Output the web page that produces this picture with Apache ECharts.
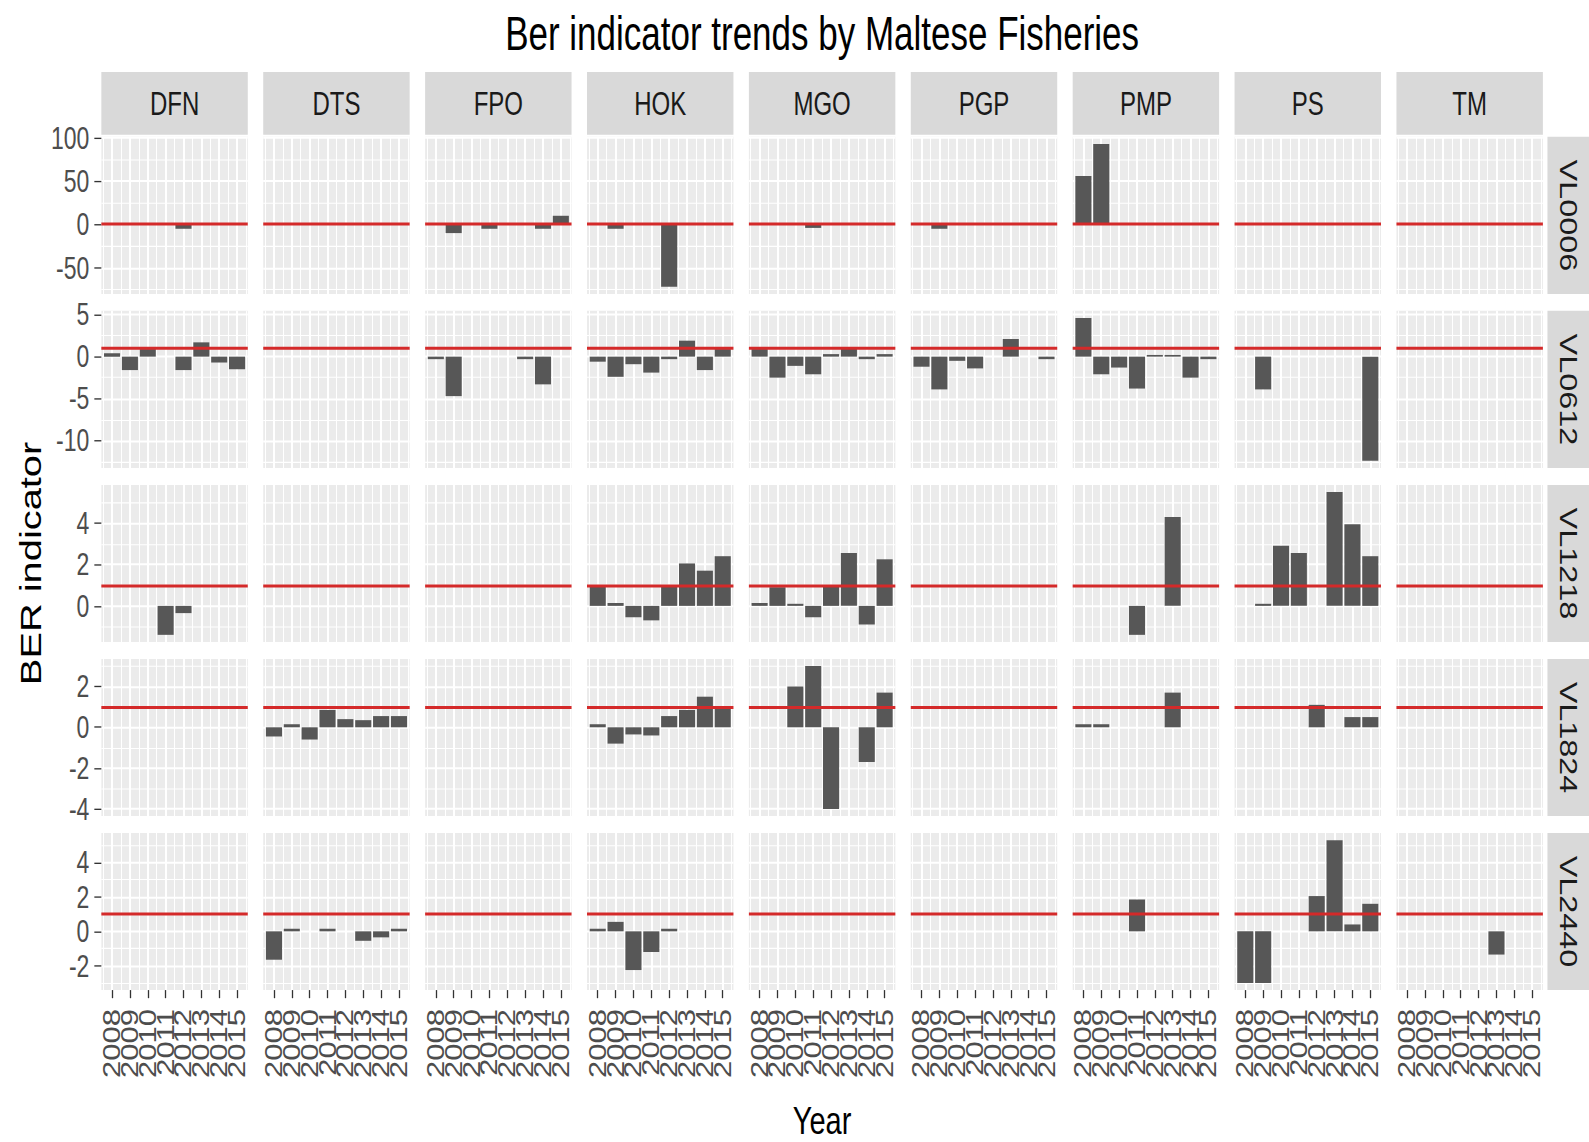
<!DOCTYPE html>
<html><head><meta charset="utf-8">
<script src="https://cdn.jsdelivr.net/npm/echarts@6/dist/echarts.min.js"></script>
<style>
html,body{margin:0;padding:0;background:#fff;overflow:hidden;}
#wrap{width:1589px;height:1142px;overflow:hidden;}
#chart{width:1589px;height:845.926px;transform:scaleY(1.35);transform-origin:0 0;}
</style></head><body>
<div id="wrap"><div id="chart"></div></div>
<script>
const N = null;
const years = [2008, 2009, 2010, 2011, 2012, 2013, 2014, 2015];
const gears = ['DFN', 'DTS', 'FPO', 'HOK', 'MGO', 'PGP', 'PMP', 'PS', 'TM'];
const lengthClasses = ['VL0006', 'VL0612', 'VL1218', 'VL1824', 'VL2440'];

// one array per gear (order of `gears`), one value per year
const VL0006 = [
  [N, N, N, N, -5, N, N, N],            // DFN
  [N, N, N, N, N, N, N, N],             // DTS
  [N, -10, N, -5, N, N, -5, 10],        // FPO
  [N, -5, N, N, -72, N, N, N],          // HOK
  [N, N, N, -4, N, N, N, N],            // MGO
  [N, -5, N, N, N, N, N, N],            // PGP
  [56, 93, N, N, N, N, N, N],           // PMP
  [N, N, N, N, N, N, N, N],             // PS
  [N, N, N, N, N, N, N, N]              // TM
];
const VL0612 = [
  [0.4, -1.6, 0.9, N, -1.6, 1.7, -0.7, -1.5],
  [N, N, N, N, N, N, N, N],
  [-0.3, -4.7, N, N, N, -0.3, -3.3, N],
  [-0.6, -2.4, -0.9, -1.9, -0.3, 1.9, -1.6, 0.9],
  [0.9, -2.5, -1.1, -2.1, 0.3, 1.0, -0.3, 0.3],
  [-1.2, -3.9, -0.5, -1.4, N, 2.1, N, -0.3],
  [4.6, -2.1, -1.3, -3.8, 0.2, 0.2, -2.5, -0.3],
  [N, -3.9, N, N, N, N, N, -12.4],
  [N, N, N, N, N, N, N, N]
];
const VL1218 = [
  [N, N, N, -1.4, -0.35, N, N, N],
  [N, N, N, N, N, N, N, N],
  [N, N, N, N, N, N, N, N],
  [1.0, 0.14, -0.55, -0.7, 1.0, 2.05, 1.7, 2.4],
  [0.14, 0.9, 0.1, -0.55, 1.0, 2.55, -0.9, 2.25],
  [N, N, N, N, N, N, N, N],
  [N, N, N, -1.4, N, 4.3, N, N],
  [N, 0.1, 2.9, 2.55, N, 5.5, 3.95, 2.4],
  [N, N, N, N, N, N, N, N]
];
const VL1824 = [
  [N, N, N, N, N, N, N, N],
  [-0.45, 0.15, -0.6, 0.85, 0.4, 0.35, 0.55, 0.55],
  [N, N, N, N, N, N, N, N],
  [0.15, -0.8, -0.35, -0.4, 0.55, 0.85, 1.5, 0.95],
  [N, N, 2.0, 3.0, -4.0, N, -1.7, 1.7],
  [N, N, N, N, N, N, N, N],
  [0.15, 0.15, N, N, N, 1.7, N, N],
  [N, N, N, N, 1.1, N, 0.5, 0.5],
  [N, N, N, N, N, N, N, N]
];
const VL2440 = [
  [N, N, N, N, N, N, N, N],
  [-1.65, 0.15, N, 0.15, N, -0.55, -0.35, 0.15],
  [N, N, N, N, N, N, N, N],
  [0.15, 0.55, -2.25, -1.2, 0.15, N, N, N],
  [N, N, N, N, N, N, N, N],
  [N, N, N, N, N, N, N, N],
  [N, N, N, 1.85, N, N, N, N],
  [-3.0, -3.0, N, N, 2.05, 5.3, 0.4, 1.6],
  [N, N, N, N, N, -1.35, N, N]
];
const rowData = [VL0006, VL0612, VL1218, VL1824, VL2440];

// y tick labels per length class
const ticksVL0006 = [-50, 0, 50, 100];
const ticksVL0612 = [-10, -5, 0, 5];
const ticksVL1218 = [0, 2, 4];
const ticksVL1824 = [-4, -2, 0, 2];
const ticksVL2440 = [-2, 0, 2, 4];
const rowTicks = [ticksVL0006, ticksVL0612, ticksVL1218, ticksVL1824, ticksVL2440];

const refLine = 1;
const titleText = 'Ber indicator trends by Maltese Fisheries';
const xTitle = 'Year';
const yTitle = 'BER indicator';

// ---- layout ----
const S = 1.35;            // vertical stretch of the drawing
const K = 1589 / 1568;     // layout measure factor
const X = v => v * K;
const Y = v => v * K / S;
const FONT = "'Liberation Sans', Arial, Helvetica, sans-serif";
const L = { left0: 100, pitchX: 159.75, w: 144.5, top0: 135, pitchY: 171.75, h: 155,
            stripTop: 71, stripBot: 133, rsx: 1527, rsw: 41 };
const xMin = 2007.4, xMax = 2015.6;
const xMinor = years.map(y => y - 0.5).concat([years[years.length - 1] + 0.5]);
const yearsA = years.filter((y, i) => i % 2 === 0);
const yearsB = years.filter((y, i) => i % 2 === 1);
const barW = 0.9 * X(L.w) / (xMax - xMin);

const grids = [], xAxes = [], yAxes = [], series = [], graphics = [];

function yearAxis(gi, vals, show) {
  return { gridIndex: gi, type: 'value', position: 'bottom', min: xMin, max: xMax,
    axisLine: { show: false, onZero: false },
    axisTick: { show: show, customValues: vals, length: 6, lineStyle: { color: '#333333', width: 1.3 } },
    axisLabel: { show: show, customValues: vals, rotate: 90, margin: 14, showMinLabel: true, showMaxLabel: true,
      hideOverlap: false, formatter: v => String(v),
      fontSize: 23, color: '#4D4D4D', fontFamily: FONT },
    splitLine: { show: true, lineStyle: { color: '#FFFFFF', width: 2 } } };
}

rowData.forEach((rows, r) => {
  const vals = [].concat(...rows).filter(v => v !== null).concat([0, refLine]);
  let lo = Math.min(...vals), hi = Math.max(...vals);
  const pad = (hi - lo) * 0.05; lo -= pad; hi += pad;
  const major = rowTicks[r];
  const step = major[1] - major[0];
  const minor = [major[0] - step / 2];
  major.forEach(v => minor.push(v + step / 2));
  const minorIn = minor.filter(v => v >= lo && v <= hi);
  const top = Y(L.top0 + r * L.pitchY);
  const hh = Y(L.h);
  const isBottom = r === rowData.length - 1;

  gears.forEach((g, c) => {
    const gi = grids.length;
    const left = X(L.left0 + c * L.pitchX);
    grids.push({ left: left, top: top, width: X(L.w), height: hh, show: true,
      backgroundColor: '#EBEBEB', borderWidth: 0, containLabel: false, outerBoundsMode: 'none' });
    xAxes.push({ gridIndex: gi, type: 'value', position: 'bottom', min: xMin, max: xMax,
      axisLine: { show: false, onZero: false }, axisTick: { show: false, customValues: xMinor },
      axisLabel: { show: false }, splitLine: { show: true, lineStyle: { color: '#FFFFFF', width: 1 } } });
    xAxes.push(yearAxis(gi, yearsA, isBottom));
    xAxes.push(yearAxis(gi, yearsB, isBottom));
    yAxes.push({ gridIndex: gi, type: 'value', position: 'left', min: lo, max: hi,
      axisLine: { show: false, onZero: false }, axisTick: { show: false, customValues: minorIn },
      axisLabel: { show: false }, splitLine: { show: true, lineStyle: { color: '#FFFFFF', width: 0.8 } } });
    yAxes.push({ gridIndex: gi, type: 'value', position: 'left', min: lo, max: hi,
      axisLine: { show: false, onZero: false },
      axisTick: { show: c === 0, customValues: major, length: 7, lineStyle: { color: '#333333', width: 1 } },
      axisLabel: { show: c === 0, customValues: major, margin: 12, showMinLabel: true, showMaxLabel: true,
        fontSize: 23, color: '#4D4D4D', fontFamily: FONT },
      splitLine: { show: true, lineStyle: { color: '#FFFFFF', width: 1.5 } } });
    series.push({ type: 'bar', name: lengthClasses[r] + ' ' + g,
      xAxisIndex: 3 * gi + 1, yAxisIndex: 2 * gi + 1,
      data: years.map((y, k) => [y, rows[c][k]]),
      barWidth: barW, itemStyle: { color: '#575757' }, silent: true,
      markLine: { silent: true, symbol: ['none', 'none'], label: { show: false },
        lineStyle: { color: '#D42A2A', width: 2.2, type: 'solid' },
        emphasis: { disabled: true }, data: [{ yAxis: refLine }] } });

    if (r === 0) {
      graphics.push({ type: 'rect', silent: true,
        shape: { x: left, y: Y(L.stripTop), width: X(L.w), height: Y(L.stripBot - L.stripTop) },
        style: { fill: '#D9D9D9' } });
      graphics.push({ type: 'text', silent: true, x: left + X(L.w) / 2, y: Y((L.stripTop + L.stripBot) / 2),
        style: { text: g, align: 'center', verticalAlign: 'middle', fontSize: 24, fontFamily: FONT, fill: '#1A1A1A' } });
    }
  });

  graphics.push({ type: 'rect', silent: true,
    shape: { x: X(L.rsx), y: top, width: X(L.rsw), height: hh }, style: { fill: '#D9D9D9' } });
  graphics.push({ type: 'text', silent: true, x: X(L.rsx + L.rsw / 2), y: top + hh / 2, rotation: -Math.PI / 2,
    style: { text: lengthClasses[r], align: 'center', verticalAlign: 'middle', fontSize: 24, fontFamily: FONT, fill: '#1A1A1A' } });
});

const plotMidX = X(L.left0 + (8 * L.pitchX + L.w) / 2);
const plotMidY = Y(L.top0 + (4 * L.pitchY + L.h) / 2);
graphics.push({ type: 'text', silent: true, x: plotMidX, y: Y(1106),
  style: { text: xTitle, align: 'center', verticalAlign: 'middle', fontSize: 29, fontFamily: FONT, fill: '#000000' } });
graphics.push({ type: 'text', silent: true, x: X(30), y: plotMidY, rotation: Math.PI / 2,
  style: { text: yTitle, align: 'center', verticalAlign: 'middle', fontSize: 29.5, fontFamily: FONT, fill: '#000000' } });

const chart = echarts.init(document.getElementById('chart'), null, { renderer: 'svg' });
chart.setOption({
  animation: false,
  backgroundColor: '#FFFFFF',
  title: { text: titleText, left: plotMidX, top: Y(33), textAlign: 'center', textVerticalAlign: 'middle', padding: 0,
    textStyle: { fontSize: 35, fontWeight: 'normal', fontFamily: FONT, color: '#000000' } },
  grid: grids, xAxis: xAxes, yAxis: yAxes, series: series, graphic: graphics
});
</script>
</body></html>
